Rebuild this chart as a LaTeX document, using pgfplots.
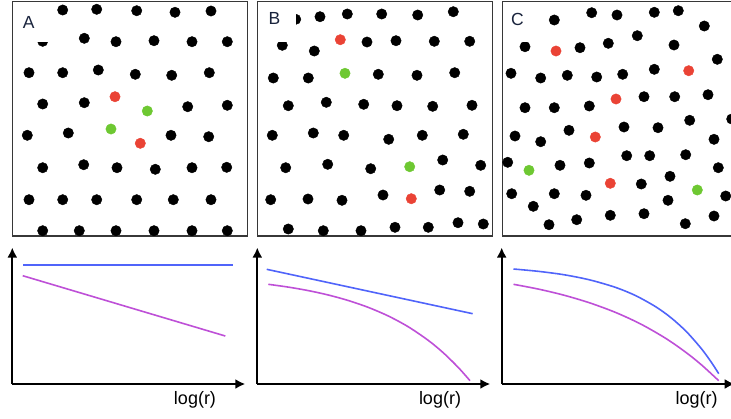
\documentclass[border=0pt]{standalone}
\usepackage{fontspec}
\setmainfont{Liberation Sans}
\usepackage{pgfplots}
\pgfplotsset{compat=1.18}
\usetikzlibrary{arrows.meta}
\definecolor{boxgray}{RGB}{55,55,55}
\definecolor{dotred}{RGB}{234,67,53}
\definecolor{dotgreen}{RGB}{110,200,50}
\definecolor{lineblue}{RGB}{80,100,250}
\definecolor{linepurple}{RGB}{190,80,215}
\definecolor{labcol}{RGB}{25,35,60}
\pgfplotsset{
  dotpanel/.style={scale only axis, width=235pt, height=234.3pt, ymin=1.7, ymax=236,
    y dir=reverse, xtick=\empty, ytick=\empty,
    axis line style={draw=boxgray, line width=1.3pt}, clip=false},
  curvepanel/.style={scale only axis, width=233pt, height=136.5pt, xmin=0, ymin=0, ymax=136.5,
    axis lines=left, xtick=\empty, ytick=\empty,
    axis line style={line width=2pt, -{Latex[length=10pt,width=10pt]}}, clip=false},
  blk/.style={only marks, mark=*, mark size=5.2pt, black},
  red/.style={only marks, mark=*, mark size=5.2pt, dotred},
  grn/.style={only marks, mark=*, mark size=5.2pt, dotgreen},
  bl/.style={lineblue, line width=1.6pt, no marks},
  pu/.style={linepurple, line width=1.6pt, no marks},
}
\begin{document}
\begin{tikzpicture}
\useasboundingbox (0,0) rectangle (731pt,-418pt);
\clip (0,0) rectangle (731pt,-418pt);
% ---------- panel A (dots)
\begin{axis}[dotpanel, name=PA, xmin=12.3, xmax=247.3, at={(12.3pt,-1.7pt)}, anchor=north west]
\addplot[blk] coordinates {
(62.7,10) (96.7,9.3) (136.7,10.7) (175,12.3) (211,11)
(42.7,41.3) (84.3,38.3) (116,41.7) (154,40.7) (192,41.7) (227.3,41.7)
(29,72.7) (62.7,72.7) (98.3,70) (135.3,74.3) (171.7,75.3) (209.3,72.7)
(42.7,104) (84.3,102.7) (187.7,106.7) (227.3,105.3)
(27.3,135.3) (68.3,133) (171,135.3) (208.7,136.7)
(42.7,167.7) (83.7,164.7) (117,167.7) (155.3,169.3) (192,167.7) (226.7,167.3)
(29,199.7) (62.7,199.7) (96.7,199.7) (136.7,199.7) (173.3,199.7) (211,199.7)
(42.7,230.7) (79.3,230.7) (116,230.7) (154,230.7) (192,230.7) (227.3,230.7)};
\addplot[red] coordinates {(115,96.7) (140.3,143.3)};
\addplot[grn] coordinates {(147.3,111) (111,129)};
\end{axis}
\fill[white] ([shift={(0.8pt,-0.8pt)}]PA.north west) rectangle ([shift={(38.4pt,-40pt)}]PA.north west);
\node[anchor=north west, inner sep=0pt, text=labcol, font=\fontsize{17.5}{20}\selectfont] at ([shift={(10.4pt,-15pt)}]PA.north west) {A};
% ---------- panel B (dots)
\begin{axis}[dotpanel, name=PB, xmin=257.3, xmax=492.3, at={(257.3pt,-1.7pt)}, anchor=north west]
\addplot[blk] coordinates {
(295.7,19.3) (320,16.7) (347.3,14) (381.7,14) (417.7,15) (453.3,11.7)
(282.3,45.3) (314.3,51) (367,42) (396,40.7) (434.3,41.3) (469.7,41.3)
(273.3,78) (308.3,78) (378.3,74.3) (417,75.3) (454.7,72.7)
(288.3,105.7) (326.3,102.3) (363.7,104.3) (397,105.7) (432.7,106.3) (472,105.3)
(272.3,135.3) (313.3,133) (343.7,135.3) (388.7,139.3) (422.3,135.3) (463.3,134.3)
(285.7,167.7) (327.7,164.3) (370.7,168.7) (442.7,160) (480.7,165.3)
(270.7,199.7) (308,199) (342,200.3) (383,195) (439.7,190) (469.7,191.3)
(288.3,229) (323.3,230.7) (361,230.7) (395,227.3) (428.3,227.3) (458,222.7) (483.3,224)};
\addplot[red] coordinates {(340.3,39.7) (411.3,198.7)};
\addplot[grn] coordinates {(345,73.3) (409.7,166.7)};
\end{axis}
\fill[white] ([shift={(0.8pt,-0.8pt)}]PB.north west) rectangle ([shift={(38.4pt,-40pt)}]PB.north west);
\node[anchor=north west, inner sep=0pt, text=labcol, font=\fontsize{17.5}{20}\selectfont] at ([shift={(11pt,-10.8pt)}]PB.north west) {B};
% ---------- panel C (dots)
\begin{axis}[dotpanel, name=PC, xmin=502.3, xmax=737.3, at={(502.3pt,-1.7pt)}, anchor=north west]
\addplot[blk] coordinates {
(554.3,20) (591.7,12.7) (617,15) (654.3,12.3) (678.3,10.7) (704.3,26)
(525,46.7) (580,47.7) (608.3,43.3) (637.3,35.7) (674,45) (717.3,59.3)
(511,73.3) (540.7,78) (567.3,75.3) (596.7,77) (622.7,74.3) (654.3,69.3)
(525,107.7) (554.3,107.7) (589.3,106) (644,96.7) (674.7,96.7) (708,94.7)
(689.7,120.3) (731.7,119)
(515,136) (540.7,141.7) (569,130.3) (624,127) (658,127.7) (714,139.3)
(507.7,162.3) (560,165.3) (589.3,163) (626.7,155.7) (649.7,155.7) (685.7,154.7) (718.3,167.7)
(511.7,193.7) (533.3,206.3) (554.3,193.7) (586,195.3) (641.3,184) (670,176.3) (725.7,196) (668,200.3)
(549,224.7) (576.7,219.7) (610.3,215.3) (644,213.7) (685.3,223.7) (714,216)};
\addplot[red] coordinates {(556,51) (688.7,70.7) (616,99) (595.3,137) (610.3,183.3)};
\addplot[grn] coordinates {(529,170.3) (697.3,190)};
\end{axis}
\fill[white] ([shift={(0.8pt,-0.8pt)}]PC.north west) rectangle ([shift={(38.4pt,-40pt)}]PC.north west);
\node[anchor=north west, inner sep=0pt, text=labcol, font=\fontsize{17.5}{20}\selectfont] at ([shift={(8.7pt,-11.6pt)}]PC.north west) {C};
% ---------- panel A (curves)
\begin{axis}[curvepanel, xmax=233, at={(12.3pt,-384pt)}, anchor=south west]
\addplot[bl] coordinates {(11,119.3) (221,119.3)};
\addplot[pu] coordinates {(10.4,108.3) (213,48)};
\node[anchor=north, inner sep=0pt, font=\fontsize{18}{20}\selectfont] at (axis cs:182.7,-7.7) {log(r)};
\end{axis}
% ---------- panel B (curves)
\begin{axis}[curvepanel, xmax=233, at={(257.3pt,-384pt)}, anchor=south west]
\addplot[bl] coordinates {(9.4,114.7) (215.4,70.3)};
\addplot[pu, smooth] coordinates {(11,99.7) (31,96.9) (51,93.4) (71,89.0) (91,83.5) (111,76.6) (131,68.0) (151,57.2) (171,43.6) (186,31.2) (201,16.5) (212.7,3.3)};
\node[anchor=north, inner sep=0pt, font=\fontsize{18}{20}\selectfont] at (axis cs:182.7,-7.7) {log(r)};
\end{axis}
% ---------- panel C (curves)
\begin{axis}[curvepanel, xmax=229, at={(501.7pt,-384pt)}, anchor=south west]
\addplot[bl, smooth] coordinates {(11.6,115) (36.6,112.6) (61.6,109.2) (86.6,104.1) (111.6,96.7) (131.6,88.4) (151.6,77.1) (166.6,66.1) (181.6,52.3) (196.6,34.9) (206.6,20.9) (213.3,10.3)};
\addplot[pu, smooth] coordinates {(11.6,99.7) (36.6,94.8) (61.6,88.7) (86.6,81.1) (111.6,71.7) (136.6,60.0) (161.6,45.4) (181.6,31.2) (196.6,18.9) (213.3,3.3)};
\node[anchor=north, inner sep=0pt, font=\fontsize{18}{20}\selectfont] at (axis cs:191.6,-7.7) {log(r)};
\end{axis}
\end{tikzpicture}
\end{document}
